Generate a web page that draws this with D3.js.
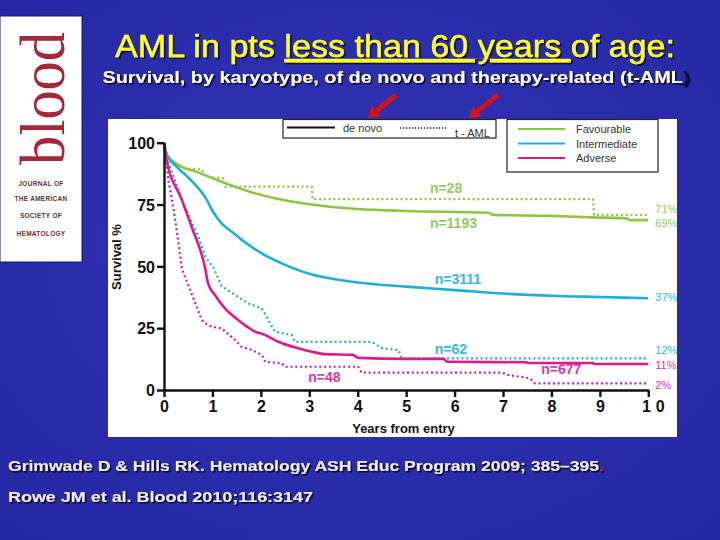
<!DOCTYPE html>
<html><head><meta charset="utf-8">
<script src="https://cdn.jsdelivr.net/npm/d3@7"></script>
<style>body{margin:0;background:#2b2ca9;} svg{display:block}</style>
</head><body>
<svg id="c" width="720" height="540"></svg>
<script>
// ---------- DATA ----------
const categories = ["Favourable", "Intermediate", "Adverse"];
const origins = ["de novo", "t - AML"];
const xTicks = [0, 1, 2, 3, 4, 5, 6, 7, 8, 9, 10];
const yTicks = [0, 25, 50, 75, 100];

// [years from entry, survival %]
const favDeNovo = [[0,100],[0.04,95.7],[0.15,93],[0.33,90.6],[0.7,88],[1.19,84.2],[1.8,80],[2.57,76.4],[3.26,74.5],[4.0,73.2],[4.98,72.4],[6.7,71.7],[6.8,70.8],[7.97,70.4],[8.86,69.8],[9.55,69.4],[9.62,68.7],[10,68.7]];
const favTAML   = [[0,100],[0.08,95],[0.16,93],[0.4,89.6],[0.78,89.2],[0.85,86.3],[1.22,85.6],[1.26,82.2],[3.05,82.2],[3.07,77.2],[8.86,77.2],[8.88,70.8],[10,70.8]];
const intDeNovo = [[0,100],[0.04,95.5],[0.25,90.5],[0.5,86],[0.7,81.8],[0.85,78],[1.0,72.5],[1.19,67.4],[1.4,64],[1.6,60.8],[1.85,57.3],[2.1,54.3],[2.5,50.6],[3.0,47],[3.5,44.9],[4.0,43.5],[5.0,41.8],[6.0,40.4],[7.0,39],[8.0,38.1],[9.0,37.6],[10,37.1]];
const intTAML   = [[0,100],[0.09,92],[0.43,74],[0.71,62],[0.85,54],[1.02,49.5],[1.19,42],[1.33,40.2],[1.74,35],[2.02,33],[2.29,23.6],[2.64,22.2],[2.7,19.5],[4.29,19.5],[4.5,16.9],[4.84,16.2],[4.91,12.8],[10,12.8]];
const advDeNovo = [[0,100],[0.04,94.3],[0.37,76.8],[0.57,66],[0.85,49.2],[0.91,43.1],[1.05,38.4],[1.26,33],[1.53,28.3],[1.88,23.6],[2.09,22.2],[2.36,19.5],[2.77,16.9],[3.05,15.5],[3.32,14.5],[3.9,14.2],[4.01,13],[4.98,12.6],[5.77,12.6],[5.85,11.4],[7.49,11.2],[7.52,10.9],[8.86,10.9],[8.88,10.5],[10,10.5]];
const advTAML   = [[0,100],[0.09,85],[0.19,74],[0.26,65],[0.37,49],[0.57,39],[0.78,28.3],[0.85,27],[0.98,25.6],[1.19,24.9],[1.47,20.2],[1.6,17.5],[1.81,16.2],[2.02,14.2],[2.09,11.4],[2.43,10.8],[2.5,9.4],[4.01,9.4],[4.08,7],[7.0,7],[7.08,6.1],[7.35,5.4],[7.56,4.7],[7.66,2.7],[10,2.7]];

const nLabels = ["n=28", "n=1193", "n=3111", "n=62", "n=677", "n=48"];
const endLabels = ["71%", "69%", "37%", "12%", "11%", "2%"];

const titleText = "AML in pts ";
const titleUnder = "less than 60 years ";
const titleEnd = "of age:";
const subtitleText = "Survival, by karyotype, of de novo and therapy-related (t-AML";
const refs = ["Grimwade D & Hills RK. Hematology ASH Educ Program 2009; 385\u2013395", "Rowe JM et al. Blood 2010;116:3147"];
const logoLines = ["JOURNAL OF", "THE AMERICAN", "SOCIETY OF", "HEMATOLOGY"];

// ---------- STYLE ----------
const col = {Favourable: "#8cc63e", Intermediate: "#1daee0", Adverse: "#df1a8c"};
const labCol = {Favourable: "#97c862", Intermediate: "#35b9e6", Adverse: "#e0379c"};
const FONT = "'Liberation Sans', Arial, sans-serif";

const svg = d3.select("#c");
const defs = svg.append("defs");
const bg = defs.append("radialGradient").attr("id","bg").attr("cx","50%").attr("cy","45%").attr("r","75%");
bg.append("stop").attr("offset","0%").attr("stop-color","#3034b6");
bg.append("stop").attr("offset","100%").attr("stop-color","#2527a2");
const flt = defs.append("filter").attr("id","sh").attr("x","-5%").attr("y","-30%").attr("width","110%").attr("height","160%");
flt.append("feDropShadow").attr("dx",1.5).attr("dy",1.5).attr("stdDeviation",0.5).attr("flood-color","#000").attr("flood-opacity",0.85);

svg.append("rect").attr("width",720).attr("height",540).attr("fill","url(#bg)");

// ---------- LOGO ----------
svg.append("rect").attr("x",0).attr("y",16).attr("width",82).attr("height",246).attr("fill","#fff").attr("stroke","#1a1a60").attr("stroke-width",1);
svg.append("text").attr("transform","translate(64,165) rotate(-90)")
  .attr("font-family","'Liberation Serif','DejaVu Serif',serif").attr("font-size",64)
  .attr("fill","#a3283a").attr("textLength",133).attr("lengthAdjust","spacingAndGlyphs").text("blood");
svg.selectAll("text.logo").data(logoLines).join("text").attr("class","logo")
  .attr("x",41).attr("y",(d,i)=>[186,201,218,236][i]).attr("text-anchor","middle")
  .attr("font-family",FONT).attr("font-weight","bold").attr("font-size",6.5)
  .attr("fill","#5e3236").attr("letter-spacing",0.3).text(d=>d);

// ---------- TITLES ----------
const t = svg.append("text").attr("x",395).attr("y",57).attr("text-anchor","middle")
  .attr("font-family",FONT).attr("font-size",32).attr("fill","#ffff2e").attr("filter","url(#sh)")
  .attr("stroke","#ffff2e").attr("stroke-width",0.4)
  .attr("textLength",560).attr("lengthAdjust","spacingAndGlyphs");
t.append("tspan").text(titleText);
t.append("tspan").attr("text-decoration","underline").text(titleUnder);
t.append("tspan").text(titleEnd);

const st = svg.append("text").attr("x",396).attr("y",83).attr("text-anchor","middle")
  .attr("font-family",FONT).attr("font-weight","bold").attr("font-size",17).attr("fill","#fff")
  .attr("filter","url(#sh)").attr("textLength",587).attr("lengthAdjust","spacingAndGlyphs");
st.append("tspan").text(subtitleText);
st.append("tspan").attr("fill","#151530").text(")");

// ---------- CHART PANEL ----------
svg.append("rect").attr("x",108).attr("y",119).attr("width",569).attr("height",318).attr("fill","#fff");

const x = d3.scaleLinear().domain([0,10]).range([164,648.3]);
const y = d3.scaleLinear().domain([0,100]).range([390,142.7]);

const smooth = d3.line().x(d=>x(d[0])).y(d=>y(d[1])).curve(d3.curveMonotoneX);
const straight = d3.line().x(d=>x(d[0])).y(d=>y(d[1]));
const curves = [
  {data: favTAML, cat: "Favourable", org: "t - AML"},
  {data: intTAML, cat: "Intermediate", org: "t - AML"},
  {data: advTAML, cat: "Adverse", org: "t - AML"},
  {data: favDeNovo, cat: "Favourable", org: "de novo"},
  {data: intDeNovo, cat: "Intermediate", org: "de novo"},
  {data: advDeNovo, cat: "Adverse", org: "de novo"}
];
svg.append("g").selectAll("path").data(curves).join("path")
  .attr("d", d=>d.org==="de novo" ? smooth(d.data) : straight(d.data)).attr("fill","none")
  .attr("stroke", d=>col[d.cat])
  .attr("stroke-width", d=>d.org==="de novo"?2.6:2.2)
  .attr("stroke-dasharray", d=>d.org==="de novo"?null:"2,2.8")
  .attr("stroke-linejoin","round");

// axes
const xAx = svg.append("g").attr("transform",`translate(0,${y(0)})`)
  .call(d3.axisBottom(x).tickValues(xTicks).tickSize(7).tickSizeOuter(0).tickPadding(4));
const yAx = svg.append("g").attr("transform",`translate(${x(0)},0)`)
  .call(d3.axisLeft(y).tickValues(yTicks).tickSize(7).tickSizeOuter(0).tickPadding(2));
[xAx,yAx].forEach(a=>{
  a.select(".domain").attr("stroke","#111").attr("stroke-width",2.4);
  a.selectAll(".tick line").attr("stroke","#111").attr("stroke-width",2.4);
  a.selectAll(".tick text").attr("fill","#111").attr("font-family",FONT).attr("font-weight","bold").attr("font-size",16);
});
xAx.selectAll(".tick text").filter(d=>d===10).attr("letter-spacing",5).attr("dx",7);
yAx.selectAll(".tick text").attr("dy","0.36em");

svg.append("text").attr("x",403.5).attr("y",433).attr("text-anchor","middle")
  .attr("font-family",FONT).attr("font-weight","bold").attr("font-size",13).attr("fill","#111")
  .text("Years from entry");
svg.append("text").attr("transform","translate(121,257) rotate(-90)").attr("text-anchor","middle")
  .attr("font-family",FONT).attr("font-weight","bold").attr("font-size",13).attr("fill","#111")
  .text("Survival %");

// n labels (anchored in data coordinates)
const nPos = [[5.49,79.6,"Favourable"],[5.49,65.6,"Favourable"],[5.59,43,"Intermediate"],[5.59,14.6,"Intermediate"],[7.79,6.5,"Adverse"],[2.98,3.1,"Adverse"]];
svg.append("g").selectAll("text").data(nLabels).join("text")
  .attr("x",(d,i)=>x(nPos[i][0])).attr("y",(d,i)=>y(nPos[i][1]))
  .attr("font-family",FONT).attr("font-weight","bold").attr("font-size",14)
  .attr("fill",(d,i)=>labCol[nPos[i][2]]).text(d=>d);

const ePos = [[71.6,"Favourable"],[66,"Favourable"],[36,"Intermediate"],[14.4,"Intermediate"],[8.4,"Adverse"],[0.3,"Adverse"]];
svg.append("g").selectAll("text").data(endLabels).join("text")
  .attr("x",x(10)+7).attr("y",(d,i)=>y(ePos[i][0]))
  .attr("font-family",FONT).attr("font-size",11)
  .attr("fill",(d,i)=>labCol[ePos[i][1]]).text(d=>d);

// legend 1 (origin)
const l1 = svg.append("g");
l1.append("rect").attr("x",283).attr("y",119.5).attr("width",213).attr("height",18.5).attr("fill","#fff").attr("stroke","#222").attr("stroke-width",1.2);
l1.append("line").attr("x1",287).attr("x2",335).attr("y1",127.5).attr("y2",127.5).attr("stroke","#111").attr("stroke-width",2);
l1.append("text").attr("x",343).attr("y",131.5).attr("font-family",FONT).attr("font-size",11).attr("fill","#333").text(origins[0]);
l1.append("line").attr("x1",400).attr("x2",446).attr("y1",128).attr("y2",128).attr("stroke","#111").attr("stroke-width",1.5).attr("stroke-dasharray","1.2,1.8");
l1.append("text").attr("x",455).attr("y",136.5).attr("font-family",FONT).attr("font-size",11).attr("fill","#333").text(origins[1]);

// legend 2 (karyotype)
const l2 = svg.append("g");
l2.append("rect").attr("x",507).attr("y",119.5).attr("width",151).attr("height",52.5).attr("fill","#fff").attr("stroke","#222").attr("stroke-width",1.2);
l2.selectAll("line").data(categories).join("line")
  .attr("x1",518).attr("x2",565).attr("y1",(d,i)=>129+i*14.5).attr("y2",(d,i)=>129+i*14.5)
  .attr("stroke",d=>col[d]).attr("stroke-width",2);
l2.selectAll("text").data(categories).join("text")
  .attr("x",576).attr("y",(d,i)=>133+i*14.5).attr("font-family",FONT).attr("font-size",11).attr("fill","#333").text(d=>d);

// red arrows
function arrow(x1,y1,x2,y2){
  const ang = Math.atan2(y2-y1,x2-x1), L = 11, W = 7;
  const bx = x2 - L*Math.cos(ang), by = y2 - L*Math.sin(ang);
  svg.append("line").attr("x1",x1).attr("y1",y1).attr("x2",bx).attr("y2",by).attr("stroke","#d4121a").attr("stroke-width",5);
  const px = -Math.sin(ang), py = Math.cos(ang);
  svg.append("path").attr("d",`M${x2},${y2}L${bx+px*W},${by+py*W}L${bx-px*W},${by-py*W}Z`).attr("fill","#d4121a");
}
arrow(396,95,368,118);
arrow(498,95,469,118);

// references
const r1 = svg.append("text").attr("x",8).attr("y",471).attr("font-family",FONT).attr("font-weight","bold").attr("font-size",15.5)
  .attr("fill","#f3ecff").attr("filter","url(#sh)").attr("textLength",596).attr("lengthAdjust","spacingAndGlyphs");
r1.append("tspan").text(refs[0]);
r1.append("tspan").attr("fill","#d0202a").text(".");
svg.append("text").attr("x",8).attr("y",502).attr("font-family",FONT).attr("font-weight","bold").attr("font-size",15.5)
  .attr("fill","#f3ecff").attr("filter","url(#sh)").attr("textLength",305).attr("lengthAdjust","spacingAndGlyphs").text(refs[1]);
</script>
</body></html>
